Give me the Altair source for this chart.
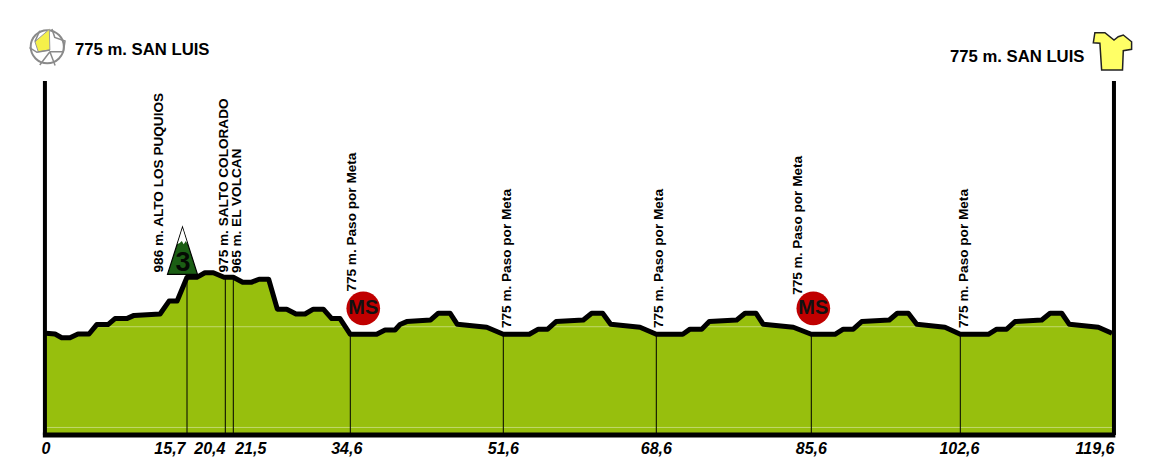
import altair as alt
import pandas as pd

FONT = "Liberation Sans"

# stage profile: distance (km) and elevation (m)
km = [0, 1.0, 1.75, 2.67, 3.56, 4.79, 5.65, 6.9, 7.68, 8.99, 9.8, 12.7, 13.7, 14.6, 15.7,
      16.9, 17.9, 18.93, 20.25, 21.5, 22.55, 23.56, 24.38, 25.46, 26.43, 27.48, 28.52, 29.53,
      30.46, 31.58, 32.52, 33.45, 34.6, 37.53, 38.46, 39.57, 40.12, 40.87, 43.53, 44.38, 45.68,
      46.49, 49.76, 51.6, 54.49, 55.49, 56.53, 57.46, 60.49, 61.42, 62.64, 63.53, 66.79, 68.6,
      71.5, 72.3, 73.58, 74.41, 77.42, 78.33, 79.53, 80.33, 83.63, 85.6, 88.3, 89.25, 90.39,
      91.35, 94.5, 95.41, 96.67, 97.63, 100.85, 102.6, 105.74, 106.68, 107.8, 108.73, 111.73,
      112.66, 113.97, 114.82, 118.07, 119.6]
elev = [779, 776, 762, 762, 776, 776, 811, 811, 833, 833, 845, 850, 898, 898, 986,
        986, 1003, 1003, 986, 986, 968, 968, 979, 979, 868, 868, 850, 850,
        868, 868, 833, 833, 775, 775, 791, 791, 811, 822, 828, 853, 853,
        812, 801, 775, 775, 794, 794, 822, 828, 853, 853, 812, 801, 775,
        775, 794, 794, 822, 828, 853, 853, 812, 801, 775, 775, 794, 794,
        822, 828, 853, 853, 812, 801, 775, 775, 794, 794, 822, 828,
        853, 853, 812, 801, 779]

# distance ticks
tick_km = [0, 15.7, 20.4, 21.5, 34.6, 51.6, 68.6, 85.6, 102.6, 119.6]
tick_px = [0, 141, 179.3, 187.3, 304.3, 457.3, 610.3, 765.3, 914.3, 1066]
tick_text = ["0", "15,7", "20,4", "21,5", "34,6", "51,6", "68,6", "85,6", "102,6", "119,6"]
tick_text_km = [0, 13.8, 18.5, 23.45, 34.2, 51.6, 68.6, 85.6, 102.5, 117.7]

# vertical markers
marker_km = [15.7, 20.4, 21.5, 34.6, 51.6, 68.6, 85.6, 102.6]
marker_elev = [986, 986, 986, 775, 775, 775, 775, 775]

# rotated place names
place_text = ["986 m. ALTO LOS PUQUIOS", "975 m. SALTO COLORADO", "965 m. EL VOLCAN",
              "775 m. Paso por Meta", "775 m. Paso por Meta", "775 m. Paso por Meta",
              "775 m. Paso por Meta", "775 m. Paso por Meta"]
place_km = [12.57, 20.24, 21.88, 34.74, 52.0, 68.89, 84.13, 102.97]
place_elev = [1004, 1004, 1002, 933, 798, 798, 921, 798]

# start / finish captions
head_text = ["775 m. SAN LUIS", "775 m. SAN LUIS"]
head_km = [3.23, 101.42]
head_elev = [1828, 1802]

# sprint markers
ms_km = [36.04, 85.83]
ms_elev = [871, 871]

base_elev = 402
top_elev = 1713
grid_elev = [430, 803]

xs = alt.Scale(domain=tick_km, range=tick_px, nice=False, zero=False)
ys = alt.Scale(domain=[base_elev, top_elev], nice=False, zero=False)
X = alt.X("km:Q", scale=xs, axis=None)
Y = alt.Y("elev:Q", scale=ys, axis=None)

profile = pd.DataFrame({"km": km, "elev": elev})
area = alt.Chart(profile).mark_area(color="#97BF0D", interpolate="linear").encode(
    x=X, y=Y, y2=alt.Y2(datum=base_elev))
line = alt.Chart(profile).mark_line(color="black", strokeWidth=5, strokeJoin="round",
                                    strokeCap="butt").encode(x=X, y=Y)

grid = alt.Chart(pd.DataFrame({"elev": grid_elev, "km": [0, 0], "km2": [119.6, 119.6]})).mark_rule(
    color="white", opacity=0.4, strokeWidth=1).encode(x=X, x2="km2:Q", y=Y)

markers = alt.Chart(pd.DataFrame({"km": marker_km, "elev": marker_elev})).mark_rule(
    color="black", strokeWidth=1).encode(x=X, y=Y, y2=alt.Y2(datum=base_elev))

axis_h = alt.Chart(pd.DataFrame({"km": [-0.35], "km2": [119.98], "elev": [base_elev]})).mark_rule(
    color="black", strokeWidth=5).encode(x=X, x2="km2:Q", y=Y)
axis_v = alt.Chart(pd.DataFrame({"km": [-0.12, 119.82], "elev": [base_elev, base_elev],
                                 "top": [top_elev, top_elev]})).mark_rule(
    color="black", strokeWidth=4).encode(x=X, y=Y, y2="top:Q")

ticks = alt.Chart(pd.DataFrame({"km": tick_text_km, "t": tick_text, "elev": [352] * 10})).mark_text(
    font=FONT, fontSize=16, fontWeight="bold", fontStyle="italic", color="black",
    align="center", baseline="middle").encode(x=X, y=Y, text="t:N")

places = alt.Chart(pd.DataFrame({"km": place_km, "elev": place_elev, "t": place_text})).mark_text(
    font=FONT, fontSize=13.6, fontWeight="bold", color="black", angle=270,
    align="left", baseline="middle").encode(x=X, y=Y, text="t:N")

heads = alt.Chart(pd.DataFrame({"km": head_km, "elev": head_elev, "t": head_text})).mark_text(
    font=FONT, fontSize=16.7, fontWeight="bold", color="black",
    align="left", baseline="middle").encode(x=X, y=Y, text="t:N")

ms_df = pd.DataFrame({"km": ms_km, "elev": ms_elev, "t": ["MS", "MS"]})
ms_dot = alt.Chart(ms_df).mark_point(shape="circle", filled=True, fill="#C00000", opacity=1,
                                     strokeWidth=0, size=1134).encode(x=X, y=Y)
ms_txt = alt.Chart(ms_df).mark_text(font=FONT, fontSize=20, fontWeight="bold", color="#111111",
                                    align="center", baseline="middle").encode(x=X, y=Y, text="t:N")

# categorised climb icon
climb = pd.DataFrame({"km": [15.2], "elev": [1084]})
mountain = alt.Chart(climb).mark_point(
    shape="M0,-1L0.638,1L-0.638,1Z", size=2209, filled=True, fill="#1B5E14", opacity=1,
    stroke="black", strokeWidth=1.2).encode(x=X, y=Y)
snow = alt.Chart(climb).mark_point(
    shape="M0,-0.97L0.21,-0.29L0.14,-0.42L0.05,-0.28L-0.03,-0.42L-0.12,-0.33L-0.21,-0.29Z",
    size=2209, filled=True, fill="white", opacity=1, strokeWidth=0).encode(x=X, y=Y)
cat = alt.Chart(pd.DataFrame({"km": [15.25], "elev": [1039], "t": ["3"]})).mark_text(
    font=FONT, fontSize=27, fontWeight="bold", color="#050A04",
    align="center", baseline="middle").encode(x=X, y=Y, text="t:N")

# start wheel icon
wheel_pos = pd.DataFrame({"km": [0.14], "elev": [1840]})
wheel = alt.Chart(wheel_pos).mark_point(shape="circle", size=1098, filled=True, fill="white", opacity=1,
                                        stroke="#8a8a8a", strokeWidth=2).encode(x=X, y=Y)
wedge = alt.Chart(wheel_pos).mark_point(
    shape="M-0.66,-0.27L0.11,-0.93L0.14,0.18L-0.48,0.27Z", size=1400, filled=True,
    fill="#F5F04A", opacity=1, stroke="#999999", strokeWidth=1).encode(x=X, y=Y)
spokes = alt.Chart(wheel_pos).mark_point(
    shape="M0.14,0.27L-0.4,0.98M0.14,0.27L0.42,1M0.14,0.27L0.86,0.27L0.95,-0.3L0.4,-0.5L0.25,-0.95"
          "M0.14,0.18L-0.55,0.3L-0.95,0.05M-0.66,-0.27L-0.4,-0.85",
    size=1400, filled=False, opacity=1, stroke="#8a8a8a", strokeWidth=1.5).encode(x=X, y=Y)

# finish jersey icon
jersey = alt.Chart(pd.DataFrame({"km": [119.63], "elev": [1824]})).mark_point(
    shape="M-0.9,-0.95L-0.38,-0.95L0.09,-0.57L0.31,-0.74L0.57,-0.83L1,-0.48L1,-0.09L0.57,-0.02"
          "L0.53,0.98L-0.55,0.98L-0.64,-0.4L-0.98,-0.43Z",
    size=1495, filled=True, fill="#FFFF66", opacity=1, stroke="#222222", strokeWidth=1.5).encode(x=X, y=Y)

chart = alt.layer(
    area, grid, markers, line, axis_h, axis_v, ticks, places, heads,
    ms_dot, ms_txt, mountain, snow, cat, wheel, wedge, spokes, jersey
).properties(
    width=1066, height=354,
    autosize=alt.AutoSizeParams(type="none"),
    padding={"left": 38, "top": 73, "right": 40, "bottom": 28},
    background="white",
).configure_view(stroke=None)

chart.save("out.html", embed_options={"renderer": "svg", "actions": False})
